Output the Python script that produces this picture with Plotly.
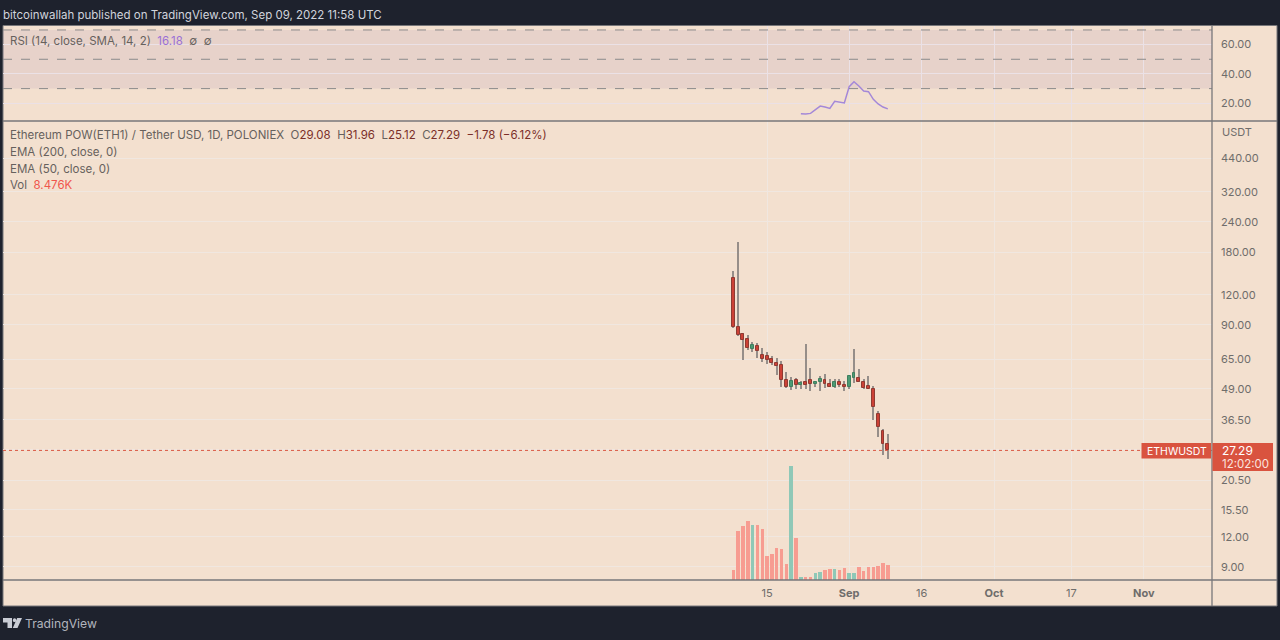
import math
import datetime as dt
import plotly.graph_objects as go

# ---------- data ----------
start = dt.date(2022, 8, 8)
dates = [(start + dt.timedelta(days=i)).isoformat() for i in range(33)]

opens = [141, 88.3, 82.6, 78.8, 71.6, 73.7, 67.6, 67, 65.1, 62.9, 61.5, 53.3, 49.9, 53.3, 50.7, 52.1, 53.3, 51.3, 52.1, 53.2, 51.5, 50, 52.3, 50.9, 50, 54.5, 54.3, 52.1, 50.5, 48.8, 38.6, 32.8, 29.08]
highs = [150, 198, 83.4, 81.8, 76.6, 75.8, 72.3, 69.6, 67, 65.9, 63.9, 57.5, 54.9, 54.5, 53, 75.1, 59.8, 53, 55.4, 56.3, 54, 53.8, 53.8, 53, 56.1, 71.8, 59, 53.7, 55.4, 50.5, 39.8, 33.3, 31.96]
lows = [87.5, 81, 64.5, 70.9, 69.6, 65.8, 63.3, 62.1, 61.5, 56.1, 49.9, 49.5, 48.5, 49, 49, 49.1, 48, 50, 48, 49.5, 49.8, 49.5, 50, 48, 49, 51.8, 52.5, 49, 49, 36.5, 31.1, 26.1, 25.12]
closes = [88.3, 82.1, 78, 72.3, 74.4, 70, 65, 64.5, 62.9, 61.1, 53.3, 49.9, 52.8, 50.9, 52, 51, 51.3, 52.5, 53.7, 51.5, 50, 52.1, 51, 50, 55.4, 56.8, 52.5, 49.4, 49.1, 41.2, 34.2, 28.9, 27.29]
volumes_k = [5.5, 26.9, 30, 32.4, 30.4, 30.6, 28, 13.5, 14.4, 17.9, 17.1, 9, 63.2, 23.2, 1.8, 1.5, 1.8, 4.1, 4.6, 5.7, 6.1, 6.1, 5.5, 6.6, 3.7, 4.1, 7, 5.2, 7, 7.4, 7.7, 9.2, 8.476]

rsi_dates = dates[14:]
rsi_values = [12.9, 12.7, 13.1, 15.9, 18.1, 17.4, 16.5, 21.3, 20.9, 20.2, 31.3, 34.7, 31.8, 28.4, 27.9, 22.7, 19.5, 17.4, 16.18]

price_ticks = [440, 320, 240, 180, 120, 90, 65, 49, 36.5, 27.5, 20.5, 15.5, 12, 9]
price_labels = ["440.00", "320.00", "240.00", "180.00", "120.00", "90.00", "65.00", "49.00", "36.50", "", "20.50", "15.50", "12.00", "9.00"]
rsi_ticks = [60, 40, 20]
rsi_labels = ["60.00", "40.00", "20.00"]
time_ticks = ["2022-08-15", "2022-09-01", "2022-09-16", "2022-10-01", "2022-10-17", "2022-11-01"]
time_labels = ["15", "<b>Sep</b>", "16", "<b>Oct</b>", "17", "<b>Nov</b>"]
last_price = 27.29

# ---------- style ----------
W, H = 1280, 640
DARK = "#1e222d"
CREAM = "#f3e0cf"
GRID = "#f0e7e0"
GRID_RSI = "#ebe1e6"
BORDER = "#77777a"
AXIS_TXT = "#6f6d6b"
LEG = "#66615d"
OHLC = "#7b2f29"
RED = "#d9533f"
FONT = "Inter, Roboto, sans-serif"
DAY_MS = 86400000
px = lambda x: x / W
py = lambda y: 1 - y / H
X_RANGE = ["2022-03-09 19:00", "2022-11-15 03:00"]
PANE_L, PANE_R = 3, 1212
RSI_T, RSI_B = 26, 121
MAIN_B = 580

fig = go.Figure()

is_up = [c > o for o, c in zip(opens, closes)]
colors_vol = ["#8fc8b7" if u else "#f79c91" for u in is_up]
fig.add_trace(go.Bar(x=dates, y=volumes_k, marker=dict(color=colors_vol, line_width=0), width=DAY_MS * 0.72,
                     xaxis="x", yaxis="y", hoverinfo="skip", showlegend=False))

fig.add_trace(go.Scatter(x=X_RANGE, y=[last_price, last_price], mode="lines",
                         line=dict(color=RED, width=1, dash="dot"), xaxis="x", yaxis="y2",
                         hoverinfo="skip", showlegend=False))

# wicks
fig.add_trace(go.Bar(x=dates, y=[h - l for h, l in zip(highs, lows)], base=lows, width=DAY_MS * 0.27,
                     marker=dict(color="#968e89", line_width=0),
                     xaxis="x", yaxis="y2", hoverinfo="skip", showlegend=False))
# bodies
body_low = [min(o, c) for o, c in zip(opens, closes)]
body_size = [abs(c - o) for o, c in zip(opens, closes)]
fig.add_trace(go.Bar(x=dates, y=body_size, base=body_low, width=DAY_MS * 0.6,
                     marker=dict(color=["#4c9a74" if u else "#cc4136" for u in is_up],
                                 line=dict(color=["#3e7f5f" if u else "#8e3a32" for u in is_up], width=1)),
                     xaxis="x", yaxis="y2", hoverinfo="skip", showlegend=False))

fig.add_trace(go.Scatter(x=rsi_dates, y=rsi_values, mode="lines",
                         line=dict(color="#a488d8", width=1.5), xaxis="x2", yaxis="y3",
                         hoverinfo="skip", showlegend=False))

shapes = [
    dict(type="rect", xref="paper", yref="paper", x0=px(3), x1=px(1277), y0=py(606), y1=py(25.5),
         fillcolor=CREAM, line=dict(color=BORDER, width=1), layer="below"),
    dict(type="rect", xref="x2 domain", yref="y3", x0=0, x1=1, y0=30, y1=70,
         fillcolor="rgba(130,90,170,0.10)", line_width=0, layer="below"),
]
for v in (70, 50, 30):
    shapes.append(dict(type="line", xref="x2 domain", yref="y3", x0=0, x1=1, y0=v, y1=v,
                       line=dict(color="#8b8a8c", width=1, dash="dash")))
shapes += [
    dict(type="line", xref="paper", yref="paper", x0=px(3), x1=px(1277), y0=py(121), y1=py(121), line=dict(color=BORDER, width=1.3)),
    dict(type="line", xref="paper", yref="paper", x0=px(3), x1=px(1277), y0=py(580), y1=py(580), line=dict(color=BORDER, width=1.3)),
    dict(type="line", xref="paper", yref="paper", x0=px(1212), x1=px(1212), y0=py(606), y1=py(25.5), line=dict(color=BORDER, width=1.3)),
    dict(type="rect", xref="paper", yref="paper", x0=px(1141.5), x1=px(1211), y0=py(458.5), y1=py(443),
         fillcolor=RED, line_width=0),
    dict(type="rect", xref="paper", yref="paper", x0=px(1212.5), x1=px(1273), y0=py(471), y1=py(443),
         fillcolor=RED, line_width=0),
]
# TradingView logo
shapes.append(dict(type="path", xref="paper", yref="paper",
                   path=f"M{px(3)},{py(618)} L{px(12)},{py(618)} L{px(12)},{py(628)} L{px(7.5)},{py(628)} L{px(7.5)},{py(622.5)} L{px(3)},{py(622.5)} Z "
                        f"M{px(22)},{py(618)} L{px(17.5)},{py(628)} L{px(12.8)},{py(628)} L{px(17.2)},{py(618)} Z",
                   fillcolor="#c9ccd4", line_width=0))
shapes.append(dict(type="circle", xref="paper", yref="paper", x0=px(12.8), x1=px(16.3), y0=py(622), y1=py(618.3),
                   fillcolor="#c9ccd4", line_width=0))


def note(x, y, text, size=11.5, color=LEG, anchor="left"):
    return dict(xref="paper", yref="paper", x=px(x - 2 if anchor == "left" else x), y=py(y), text=text, showarrow=False,
                xanchor=anchor, yanchor="middle", font=dict(family=FONT, size=size, color=color))


def c(text, col):
    return f'<span style="color:{col}">{text}</span>'


head = ("Ethereum POW(ETH1) / Tether USD, 1D, POLONIEX  "
        f"O{c('29.08', OHLC)}  H{c('31.96', OHLC)}  L{c('25.12', OHLC)}  C{c('27.29', OHLC)}  {c('−1.78 (−6.12%)', OHLC)}")
annotations = [
    note(3, 15, "bitcoinwallah published on TradingView.com, Sep 09, 2022 11:58 UTC", 11.5, "#d1d4dc"),
    note(10, 41, f"RSI (14, close, SMA, 14, 2)  {c('16.18', '#9a70d6')}  ∅  ∅"),
    note(10, 135.5, head),
    note(10, 152, "EMA (200, close, 0)"),
    note(10, 168.5, "EMA (50, close, 0)"),
    note(10, 185, f"Vol  {c('8.476K', '#f0564c')}"),
    note(1221.5, 132, "USDT", 11, AXIS_TXT),
    note(1176.5, 451, "ETHWUSDT", 10.5, "#ffffff", "center"),
    note(1222, 450.5, "27.29", 12, "#ffffff"),
    note(1222, 464, "12:02:00", 11.5, "#fbe3de"),
    note(25, 623, "TradingView", 12.2, "#b2b5be"),
]

common_x = dict(range=X_RANGE, type="date", showgrid=True, gridwidth=1,
                tickmode="array", tickvals=time_ticks, zeroline=False, showline=False, ticks="")
y_common = dict(showgrid=True, gridwidth=1, zeroline=False, showline=False, ticks="",
                tickmode="array", side="right", tickfont=dict(family=FONT, size=11, color=AXIS_TXT),
                ticklabelstandoff=8)

fig.update_layout(
    width=W, height=H, margin=dict(l=0, r=0, t=0, b=0), autosize=False,
    paper_bgcolor=DARK, plot_bgcolor="rgba(0,0,0,0)", showlegend=False, bargap=0, barmode="overlay",
    font=dict(family=FONT),
    hovermode=False,
    xaxis=dict(common_x, gridcolor=GRID, domain=[px(PANE_L), px(PANE_R)], anchor="y", ticktext=time_labels,
               rangeslider=dict(visible=False), ticklabelstandoff=5,
               tickfont=dict(family=FONT, size=11, color=AXIS_TXT)),
    xaxis2=dict(common_x, gridcolor=GRID_RSI, domain=[px(PANE_L), px(PANE_R)], anchor="y3", showticklabels=False, matches="x",
                rangeslider=dict(visible=False)),
    yaxis=dict(domain=[py(MAIN_B), py(RSI_B)], range=[0, 254], visible=False, anchor="x"),
    yaxis2=dict(y_common, gridcolor=GRID, domain=[py(MAIN_B), py(RSI_B)], type="log",
                range=[math.log10(7.95), math.log10(627)], overlaying="y", anchor="x",
                tickvals=price_ticks, ticktext=price_labels),
    yaxis3=dict(y_common, gridcolor=GRID_RSI, domain=[py(RSI_B), py(RSI_T)], range=[7.9, 72.7], anchor="x2",
                tickvals=rsi_ticks, ticktext=rsi_labels),
    shapes=shapes,
    annotations=annotations,
)

fig.write_html("out.html", config=dict(displayModeBar=False),
               post_script="document.body.style.margin='0';document.body.style.background='#1e222d';document.documentElement.style.overflow='hidden';")
